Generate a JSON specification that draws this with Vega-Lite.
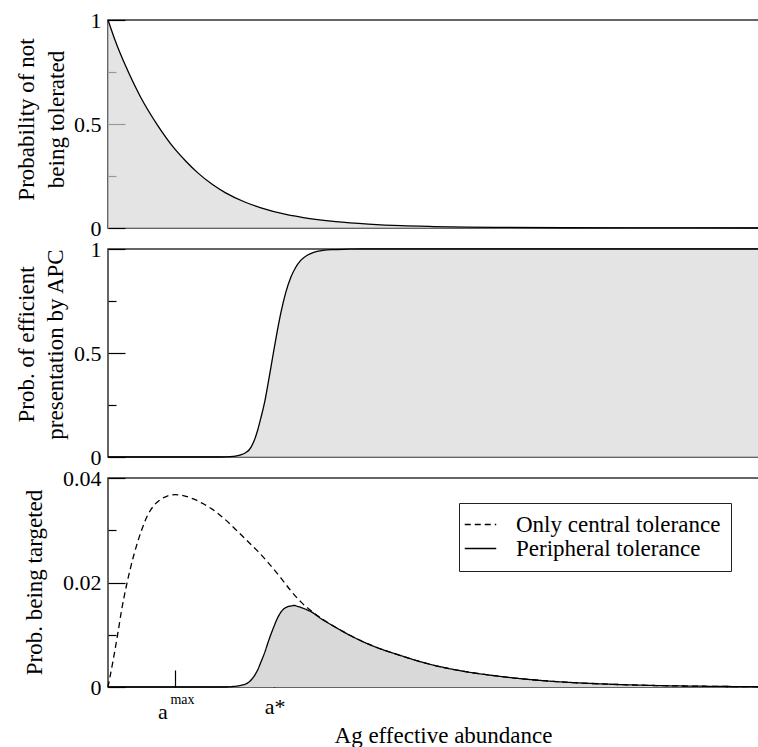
{
  "$schema": "https://vega.github.io/schema/vega-lite/v6.json",
  "background": "white",
  "padding": {"left": 14, "top": 8, "right": 0, "bottom": 5},
  "spacing": 21,
  "bounds": "flush",
  "config": {
    "font": "Liberation Serif, Times New Roman, Times, DejaVu Serif, serif",
    "view": {"stroke": "#333333", "strokeWidth": 1.5},
    "axis": {
      "labelFont": "Liberation Serif, Times New Roman, Times, DejaVu Serif, serif",
      "titleFont": "Liberation Serif, Times New Roman, Times, DejaVu Serif, serif",
      "labelFontSize": 22, "titleFontSize": 23, "titleFontWeight": "normal",
      "labelColor": "black", "titleColor": "black", "tickColor": "black", "tickWidth": 1.2,
      "domain": false, "grid": false, "labelFlush": false, "labelOverlap": false
    },
    "text": {"font": "Liberation Serif, Times New Roman, Times, DejaVu Serif, serif"}
  },
  "datasets": {
    "top": [
      {"x": 0, "p": 1}, {"x": 0.1, "p": 0.91}, {"x": 0.2, "p": 0.83}, {"x": 0.32, "p": 0.745},
      {"x": 0.5, "p": 0.63}, {"x": 0.77, "p": 0.49}, {"x": 1.0, "p": 0.39}, {"x": 1.2, "p": 0.32},
      {"x": 1.38, "p": 0.265}, {"x": 1.6, "p": 0.21}, {"x": 1.8, "p": 0.17}, {"x": 2.1, "p": 0.125},
      {"x": 2.35, "p": 0.097}, {"x": 2.75, "p": 0.064}, {"x": 3.0, "p": 0.05}, {"x": 3.5, "p": 0.031},
      {"x": 4.0, "p": 0.019}, {"x": 4.5, "p": 0.011}, {"x": 5.0, "p": 0.007}, {"x": 5.5, "p": 0.0045},
      {"x": 6.0, "p": 0.003}, {"x": 7.0, "p": 0.0012}, {"x": 8.0, "p": 0.0005}, {"x": 9.0, "p": 0.0002},
      {"x": 10.0, "p": 0.0001}
    ],
    "mid": [
      {"x": 0, "p": 0}, {"x": 1.6, "p": 0}, {"x": 1.81, "p": 0.001}, {"x": 1.92, "p": 0.003},
      {"x": 2.04, "p": 0.01}, {"x": 2.12, "p": 0.022}, {"x": 2.17, "p": 0.035}, {"x": 2.24, "p": 0.075},
      {"x": 2.3, "p": 0.13}, {"x": 2.35, "p": 0.19}, {"x": 2.41, "p": 0.27}, {"x": 2.46, "p": 0.355},
      {"x": 2.54, "p": 0.5}, {"x": 2.6, "p": 0.605}, {"x": 2.66, "p": 0.7}, {"x": 2.73, "p": 0.79},
      {"x": 2.81, "p": 0.865}, {"x": 2.88, "p": 0.91}, {"x": 2.96, "p": 0.945}, {"x": 3.06, "p": 0.97},
      {"x": 3.16, "p": 0.984}, {"x": 3.3, "p": 0.993}, {"x": 3.43, "p": 0.997}, {"x": 3.7, "p": 0.999},
      {"x": 3.89, "p": 1}, {"x": 10, "p": 1}
    ],
    "bot": [
      {"x": 0, "y": 0, "s": "Only central tolerance"},
      {"x": 0.08, "y": 0.0052, "s": "Only central tolerance"},
      {"x": 0.15, "y": 0.0102, "s": "Only central tolerance"},
      {"x": 0.21, "y": 0.0148, "s": "Only central tolerance"},
      {"x": 0.29, "y": 0.0198, "s": "Only central tolerance"},
      {"x": 0.40, "y": 0.0254, "s": "Only central tolerance"},
      {"x": 0.51, "y": 0.0298, "s": "Only central tolerance"},
      {"x": 0.61, "y": 0.0329, "s": "Only central tolerance"},
      {"x": 0.71, "y": 0.0348, "s": "Only central tolerance"},
      {"x": 0.81, "y": 0.0359, "s": "Only central tolerance"},
      {"x": 0.92, "y": 0.0366, "s": "Only central tolerance"},
      {"x": 1.03, "y": 0.0368, "s": "Only central tolerance"},
      {"x": 1.17, "y": 0.0366, "s": "Only central tolerance"},
      {"x": 1.31, "y": 0.0360, "s": "Only central tolerance"},
      {"x": 1.43, "y": 0.0353, "s": "Only central tolerance"},
      {"x": 1.58, "y": 0.0342, "s": "Only central tolerance"},
      {"x": 1.74, "y": 0.0327, "s": "Only central tolerance"},
      {"x": 1.94, "y": 0.0304, "s": "Only central tolerance"},
      {"x": 2.12, "y": 0.0282, "s": "Only central tolerance"},
      {"x": 2.30, "y": 0.0260, "s": "Only central tolerance"},
      {"x": 2.46, "y": 0.0238, "s": "Only central tolerance"},
      {"x": 2.66, "y": 0.0208, "s": "Only central tolerance"},
      {"x": 2.81, "y": 0.0184, "s": "Only central tolerance"},
      {"x": 2.97, "y": 0.0162, "s": "Only central tolerance"},
      {"x": 3.12, "y": 0.0146, "s": "Only central tolerance"},
      {"x": 3.27, "y": 0.0132, "s": "Only central tolerance"},
      {"x": 3.50, "y": 0.0114, "s": "Only central tolerance"},
      {"x": 3.73, "y": 0.0098, "s": "Only central tolerance"},
      {"x": 4.04, "y": 0.0080, "s": "Only central tolerance"},
      {"x": 4.50, "y": 0.0060, "s": "Only central tolerance"},
      {"x": 4.96, "y": 0.0043, "s": "Only central tolerance"},
      {"x": 5.42, "y": 0.0031, "s": "Only central tolerance"},
      {"x": 6.04, "y": 0.0020, "s": "Only central tolerance"},
      {"x": 6.81, "y": 0.0011, "s": "Only central tolerance"},
      {"x": 7.57, "y": 0.0006, "s": "Only central tolerance"},
      {"x": 8.34, "y": 0.0003, "s": "Only central tolerance"},
      {"x": 9.11, "y": 0.00015, "s": "Only central tolerance"},
      {"x": 10, "y": 0.00005, "s": "Only central tolerance"},
      {"x": 0, "y": 0, "s": "Peripheral tolerance"},
      {"x": 1.81, "y": 0, "s": "Peripheral tolerance"},
      {"x": 1.92, "y": 0.0001, "s": "Peripheral tolerance"},
      {"x": 2.04, "y": 0.0003, "s": "Peripheral tolerance"},
      {"x": 2.12, "y": 0.0006, "s": "Peripheral tolerance"},
      {"x": 2.17, "y": 0.0010, "s": "Peripheral tolerance"},
      {"x": 2.24, "y": 0.0020, "s": "Peripheral tolerance"},
      {"x": 2.30, "y": 0.0033, "s": "Peripheral tolerance"},
      {"x": 2.35, "y": 0.0048, "s": "Peripheral tolerance"},
      {"x": 2.41, "y": 0.0067, "s": "Peripheral tolerance"},
      {"x": 2.46, "y": 0.0086, "s": "Peripheral tolerance"},
      {"x": 2.54, "y": 0.0113, "s": "Peripheral tolerance"},
      {"x": 2.60, "y": 0.0131, "s": "Peripheral tolerance"},
      {"x": 2.66, "y": 0.0144, "s": "Peripheral tolerance"},
      {"x": 2.73, "y": 0.0152, "s": "Peripheral tolerance"},
      {"x": 2.81, "y": 0.0155, "s": "Peripheral tolerance"},
      {"x": 2.86, "y": 0.0156, "s": "Peripheral tolerance"},
      {"x": 2.92, "y": 0.0154, "s": "Peripheral tolerance"},
      {"x": 2.97, "y": 0.0152, "s": "Peripheral tolerance"},
      {"x": 3.05, "y": 0.0148, "s": "Peripheral tolerance"},
      {"x": 3.12, "y": 0.0144, "s": "Peripheral tolerance"},
      {"x": 3.27, "y": 0.0131, "s": "Peripheral tolerance"},
      {"x": 3.50, "y": 0.0114, "s": "Peripheral tolerance"},
      {"x": 3.73, "y": 0.0098, "s": "Peripheral tolerance"},
      {"x": 4.04, "y": 0.0080, "s": "Peripheral tolerance"},
      {"x": 4.50, "y": 0.0060, "s": "Peripheral tolerance"},
      {"x": 4.96, "y": 0.0043, "s": "Peripheral tolerance"},
      {"x": 5.42, "y": 0.0031, "s": "Peripheral tolerance"},
      {"x": 6.04, "y": 0.0020, "s": "Peripheral tolerance"},
      {"x": 6.81, "y": 0.0011, "s": "Peripheral tolerance"},
      {"x": 7.57, "y": 0.0006, "s": "Peripheral tolerance"},
      {"x": 8.34, "y": 0.0003, "s": "Peripheral tolerance"},
      {"x": 9.11, "y": 0.00015, "s": "Peripheral tolerance"},
      {"x": 10, "y": 0.00005, "s": "Peripheral tolerance"}
    ]
  },
  "vconcat": [
    {
      "width": 651, "height": 208,
      "data": {"name": "top"},
      "mark": {"type": "area", "color": "#d9d9d9", "interpolate": "monotone", "line": {"color": "black", "strokeWidth": 1.3}},
      "encoding": {
        "x": {"field": "x", "type": "quantitative", "scale": {"domain": [0, 10], "nice": false}, "axis": null},
        "y": {"field": "p", "type": "quantitative", "scale": {"domain": [0, 1], "nice": false},
          "axis": {"values": [0, 0.25, 0.5, 0.75, 1],
            "tickSize": {"condition": {"test": "datum.value == 0.25 || datum.value == 0.75", "value": -8}, "value": -17},
            "labelExpr": "datum.value == 0.25 || datum.value == 0.75 ? '' : format(datum.value, '~g')",
            "labelPadding": 24,
            "title": ["Probability of not", "being tolerated"],
            "titleX": -70, "titleY": 99, "titleLineHeight": 30, "titleAngle": -90,
            "titleAlign": "center", "titleBaseline": "bottom"}}
      }
    },
    {
      "width": 651, "height": 208,
      "data": {"name": "mid"},
      "mark": {"type": "area", "color": "#d9d9d9", "interpolate": "monotone", "line": {"color": "black", "strokeWidth": 1.3}},
      "encoding": {
        "x": {"field": "x", "type": "quantitative", "scale": {"domain": [0, 10], "nice": false}, "axis": null},
        "y": {"field": "p", "type": "quantitative", "scale": {"domain": [0, 1], "nice": false},
          "axis": {"values": [0, 0.25, 0.5, 0.75, 1],
            "tickSize": {"condition": {"test": "datum.value == 0.25 || datum.value == 0.75", "value": -8}, "value": -17},
            "labelExpr": "datum.value == 0.25 || datum.value == 0.75 ? '' : format(datum.value, '~g')",
            "labelPadding": 24,
            "title": ["Prob. of efficient", "presentation by APC"],
            "titleX": -70, "titleY": 95, "titleLineHeight": 29, "titleAngle": -90,
            "titleAlign": "center", "titleBaseline": "bottom"}}
      }
    },
    {
      "width": 651, "height": 209,
      "data": {"name": "bot"},
      "encoding": {
        "x": {"field": "x", "type": "quantitative", "scale": {"domain": [0, 10], "nice": false},
          "axis": {"values": [1.029, 2.55], "tickSize": -17, "labels": false,
            "title": "Ag effective abundance", "titleX": 335, "titleY": 37, "titleFontSize": 23}},
        "y": {"field": "y", "type": "quantitative", "scale": {"domain": [0, 0.04], "nice": false},
          "axis": {"values": [0, 0.01, 0.02, 0.03, 0.04],
            "tickSize": {"condition": {"test": "datum.value == 0.01 || datum.value == 0.03", "value": -8}, "value": -17},
            "labelExpr": "datum.value == 0.01 || datum.value == 0.03 ? '' : format(datum.value, '~g')",
            "labelPadding": 24,
            "title": "Prob. being targeted",
            "titleX": -62, "titleY": 104, "titleAngle": -90,
            "titleAlign": "center", "titleBaseline": "bottom"}}
      },
      "layer": [
        {
          "transform": [{"filter": "datum.s == 'Peripheral tolerance'"}],
          "mark": {"type": "area", "color": "#d9d9d9", "interpolate": "monotone"}
        },
        {
          "mark": {"type": "line", "color": "black", "strokeWidth": 1.3, "interpolate": "monotone"},
          "encoding": {
            "strokeDash": {"field": "s", "type": "nominal",
              "scale": {"domain": ["Only central tolerance", "Peripheral tolerance"], "range": [[6, 4], [1, 0]]},
              "legend": {"orient": "none", "legendX": 351, "legendY": 483, "title": null,
                "symbolType": "M-1.5,0H1.5", "symbolSize": 441, "symbolStrokeWidth": 1.3,
                "symbolStrokeColor": "black", "symbolFillColor": "transparent",
                "labelFont": "Liberation Serif, Times New Roman, Times, DejaVu Serif, serif",
                "labelFontSize": 23, "labelColor": "black", "labelOffset": 24,
                "labelLimit": 400,
                "padding": 10, "rowPadding": 0, "fillColor": "white", "strokeColor": "#222222"}}
          }
        },
        {
          "data": {"values": [{"x": 1.029, "y": 0, "t": "a"}]},
          "mark": {"type": "text", "fontSize": 22, "baseline": "alphabetic", "align": "center", "dx": -12, "dy": 32, "clip": false, "color": "black"},
          "encoding": {"text": {"field": "t"}}
        },
        {
          "data": {"values": [{"x": 1.029, "y": 0, "t": "max"}]},
          "mark": {"type": "text", "fontSize": 14, "baseline": "alphabetic", "align": "center", "dx": 7.5, "dy": 17, "clip": false, "color": "black"},
          "encoding": {"text": {"field": "t"}}
        },
        {
          "data": {"values": [{"x": 2.55, "y": 0, "t": "a*"}]},
          "mark": {"type": "text", "fontSize": 22, "baseline": "alphabetic", "align": "center", "dx": 1, "dy": 27, "clip": false, "color": "black"},
          "encoding": {"text": {"field": "t"}}
        }
      ]
    }
  ]
}
